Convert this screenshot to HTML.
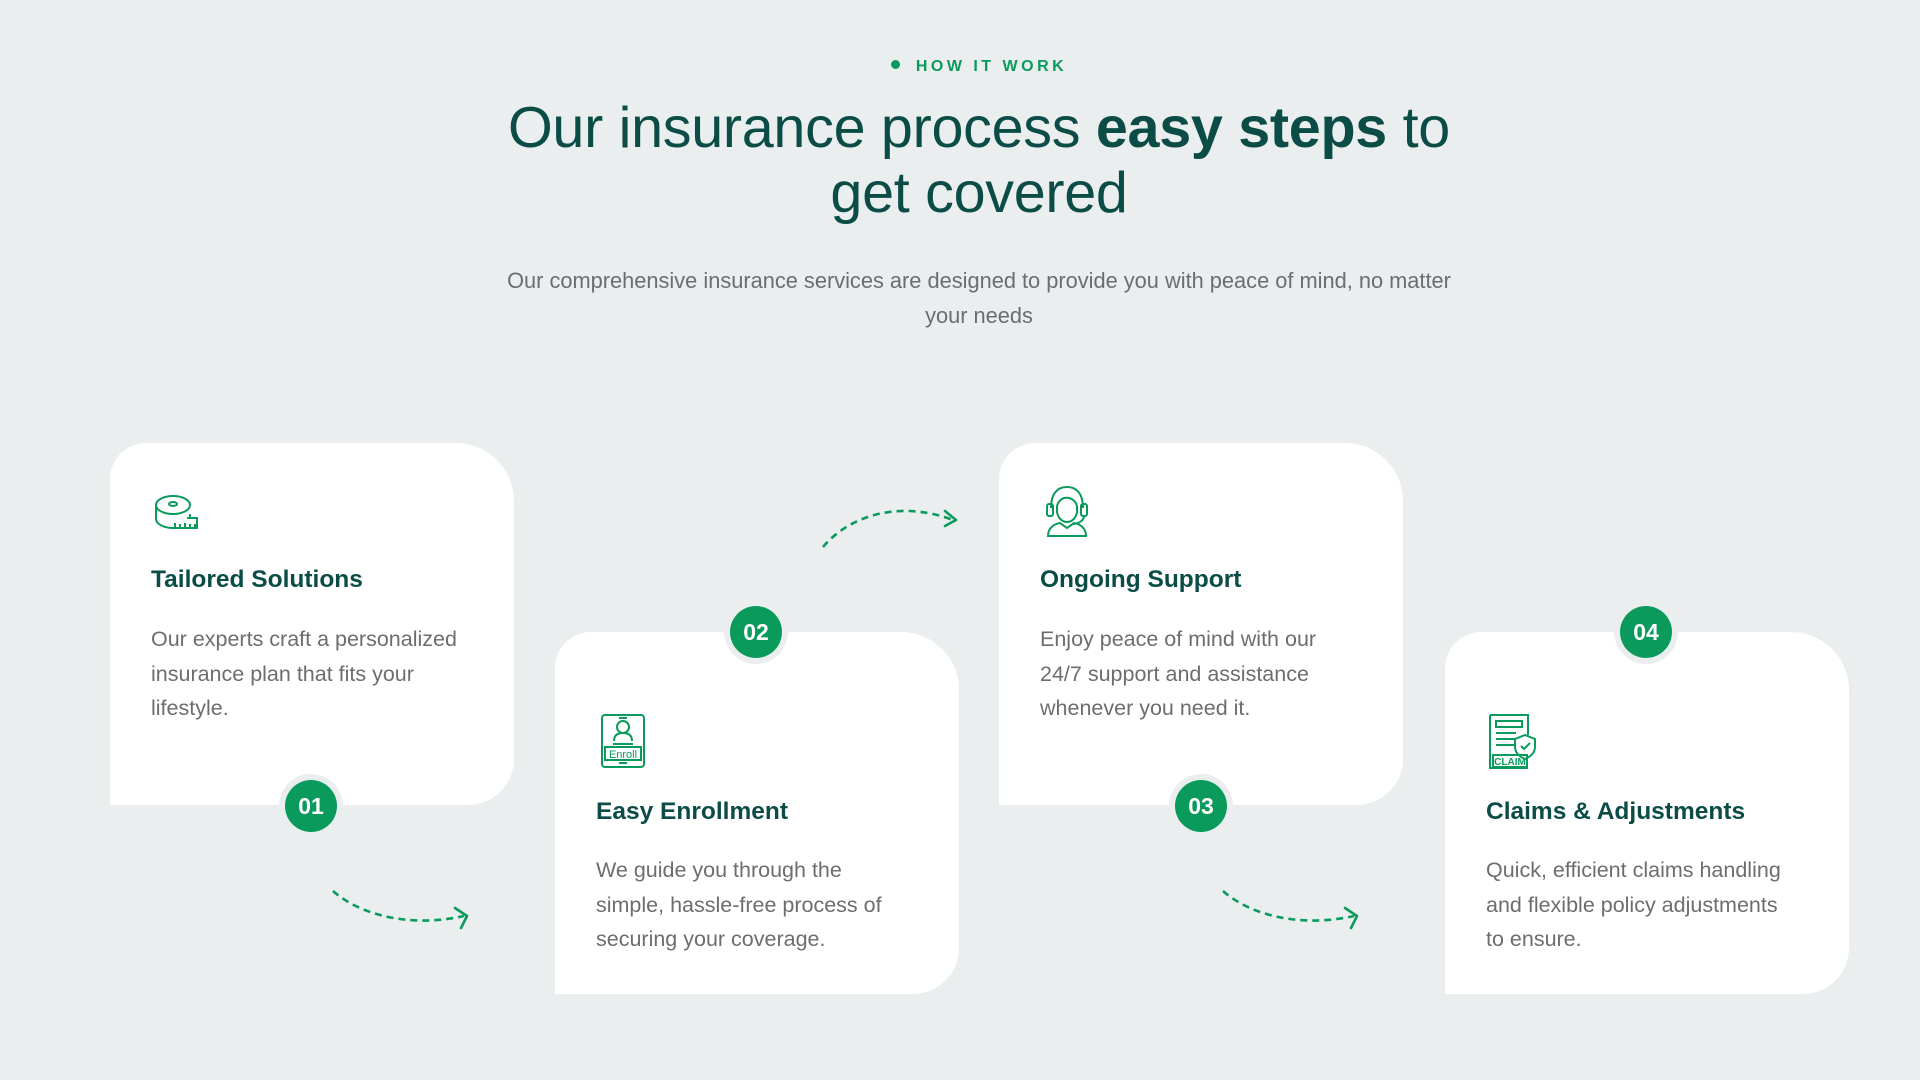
<!DOCTYPE html>
<html><head><meta charset="utf-8">
<style>
*{margin:0;padding:0;box-sizing:border-box}
body{width:1920px;height:1080px;background:#eaeeef;font-family:"Liberation Sans",sans-serif;position:relative;overflow:hidden}
.abs{position:absolute}
.tag{left:19px;width:1920px;top:58px;text-align:center;font-size:16px;letter-spacing:3.5px;color:#0a9b5c;font-weight:bold}
.tag span{display:inline-block;width:9px;height:9px;border-radius:50%;background:#0a9b5c;margin-right:16px;vertical-align:2px}
h1{position:absolute;left:19px;width:1920px;top:96px;text-align:center;font-weight:normal;font-size:57.5px;line-height:65px;color:#0b4d46;letter-spacing:-0.3px}
h1 b{font-weight:bold}
.sub{left:19px;width:1920px;top:263px;text-align:center;font-size:21.8px;line-height:35px;color:#6b6e70}
.card{position:absolute;width:404px;height:362px;background:#fff;border-radius:36px 58px 46px 0}
.card h3{position:absolute;left:41px;font-size:24.5px;color:#0b4d46;font-weight:bold}
.card p{position:absolute;left:41px;width:312px;font-size:21.5px;line-height:34.5px;color:#6b6e70}
.badge{position:absolute;width:64px;height:64px;border-radius:50%;background:#eaeeef;display:flex;align-items:center;justify-content:center}
.badge div{width:52px;height:52px;border-radius:50%;background:#0a9b5c;color:#fff;font-weight:bold;font-size:23px;display:flex;align-items:center;justify-content:center}
svg.ic{position:absolute}
</style></head><body>
<div class="abs tag"><span></span>HOW IT WORK</div>
<h1>Our insurance process <b>easy steps</b> to<br>get covered</h1>
<div class="abs sub">Our comprehensive insurance services are designed to provide you with peace of mind, no matter<br>your needs</div>

<div class="card" style="left:110px;top:443px">
 <h3 style="top:123px">Tailored Solutions</h3>
 <p style="top:179px">Our experts craft a personalized insurance plan that fits your lifestyle.</p>
</div>
<div class="card" style="left:555px;top:632px">
 <h3 style="top:166px">Easy Enrollment</h3>
 <p style="top:221px">We guide you through the simple, hassle-free process of securing your coverage.</p>
</div>
<div class="card" style="left:999px;top:443px">
 <h3 style="top:123px">Ongoing Support</h3>
 <p style="top:179px">Enjoy peace of mind with our 24/7 support and assistance whenever you need it.</p>
</div>
<div class="card" style="left:1445px;top:632px">
 <h3 style="top:166px">Claims &amp; Adjustments</h3>
 <p style="top:221px">Quick, efficient claims handling and flexible policy adjustments to ensure.</p>
</div>

<div class="badge" style="left:279px;top:774px"><div>01</div></div>
<div class="badge" style="left:724px;top:600px"><div>02</div></div>
<div class="badge" style="left:1169px;top:774px"><div>03</div></div>
<div class="badge" style="left:1614px;top:600px"><div>04</div></div>

<svg class="ic" style="left:153px;top:494px" width="48" height="38" viewBox="0 0 48 38" fill="none" stroke="#0a9b5c" stroke-width="2">
 <ellipse cx="20" cy="11" rx="17" ry="9"/><ellipse cx="20" cy="10" rx="4" ry="2"/>
 <path d="M3 11v14c0 5 8 9 17 9h24V24H34"/><path d="M37 20v4M22 34v-5M27 34v-4M32 34v-5M37 34v-4M42 34v-4"/>
</svg>
<svg class="ic" style="left:599px;top:713px" width="48" height="56" viewBox="0 0 48 56" fill="none" stroke="#0a9b5c" stroke-width="2">
 <rect x="3" y="2" width="42" height="52" rx="3"/><circle cx="24" cy="14" r="6"/><path d="M15 28c0-6 4-8 9-8s9 2 9 8"/><path d="M20 5h8M20 50h8M14 31h20"/>
 <rect x="6" y="34" width="36" height="13"/><text x="24" y="45" font-size="11" font-family="Liberation Sans" fill="#0a9b5c" stroke="none" text-anchor="middle">Enroll</text>
</svg>
<svg class="ic" style="left:1043px;top:484px" width="48" height="54" viewBox="0 0 48 54" fill="none" stroke="#0a9b5c" stroke-width="2">
 <path d="M8 24C8 10 14 3 24 3s16 7 16 21"/><rect x="4" y="20" width="6" height="12" rx="2"/><rect x="38" y="20" width="6" height="12" rx="2"/>
 <path d="M14 22c2-6 6-9 12-8 4 1 7 4 8 8v6c-1 6-5 10-10 10s-9-4-10-10z"/><path d="M41 32c0 6-8 8-12 8"/>
 <path d="M5 52c0-8 6-12 12-13l7 5 7-5c6 1 12 5 12 13z"/>
</svg>
<svg class="ic" style="left:1488px;top:713px" width="50" height="57" viewBox="0 0 50 57" fill="none" stroke="#0a9b5c" stroke-width="2">
 <path d="M2 2h38v20M2 2v53h38"/><rect x="8" y="8" width="26" height="6"/><path d="M8 20h20M8 26h20M8 32h18"/>
 <path d="M37 22l10 4v8c0 6-5 10-10 12-5-2-10-6-10-12v-8z"/><path d="M33 33l3 3 6-6"/>
 <rect x="5" y="42" width="34" height="12"/><text x="22" y="52" font-size="10" font-weight="bold" font-family="Liberation Sans" fill="#0a9b5c" stroke="none" text-anchor="middle">CLAIM</text>
</svg>

<svg class="abs" style="left:0;top:0" width="1920" height="1080" fill="none" stroke="#0a9b5c" stroke-width="2.6" stroke-dasharray="7 5">
 <path d="M333 891C360 915 410 928 464 916"/>
 <path d="M823 547C850 515 900 500 953 520"/>
 <path d="M1223 891C1250 915 1300 928 1354 916"/>
</svg>
<svg class="abs" style="left:0;top:0" width="1920" height="1080" fill="none" stroke="#0a9b5c" stroke-width="2.6" stroke-linecap="round" stroke-linejoin="round">
 <path d="M455 908l12 8-6 12"/>
 <path d="M945 511l11 9-11 6"/>
 <path d="M1345 908l12 8-6 12"/>
</svg>
</body></html>
